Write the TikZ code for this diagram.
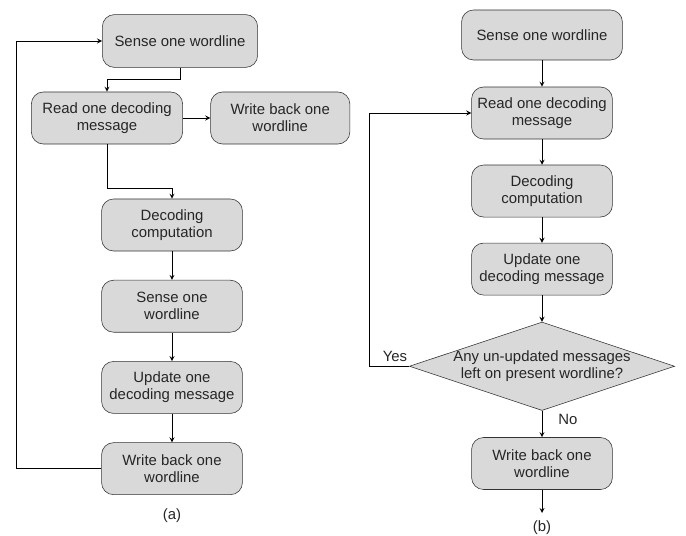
\documentclass[tikz,border=0pt]{standalone}
\usepackage{fontspec}
\setmainfont{Liberation Sans}
\usetikzlibrary{shapes.geometric,arrows}
\tikzstyle{process} = [rectangle, rounded corners=0.3cm, minimum width=3.52cm, minimum height=1.3cm, text centered, align=center, draw=black!80, fill=black!15, text=black!85, font=\fontsize{10.6}{12.3}\selectfont]
\tikzstyle{decision} = [diamond, aspect=3, minimum width=6.5cm, minimum height=2.18cm, inner sep=-0.5pt, text centered, align=center, draw=black!80, fill=black!15, text=black!85, font=\fontsize{10.6}{12.3}\selectfont]
\tikzstyle{label} = [text=black!85, font=\fontsize{10.6}{12.3}\selectfont]
\tikzstyle{arrow} = [line width=0.6pt, ->, >=stealth]

\begin{document}
\begin{tikzpicture}[x=0.025cm, y=-0.025cm]
\useasboundingbox (0,0) rectangle (686,536);

% (a)
\node (senseA) [process, minimum width=3.88cm, minimum height=1.32cm] at (180,41) {Sense one wordline};
\node (readA) [process, minimum width=3.78cm] at (107,118) {Read one decoding\\message};
\node (writeA) [process, minimum width=3.48cm, right of=readA, node distance=4.33cm] {Write back one\\wordline};
\node (decodeA) [process] at (172,225) {Decoding\\computation};
\node (senseA2) [process, below of=decodeA, node distance=2.03cm] {Sense one\\wordline};
\node (updateA) [process, below of=senseA2, node distance=2.03cm] {Update one\\decoding message};
\node (writeA2) [process, below of=updateA, node distance=2.03cm] {Write back one\\wordline};
\node (capA) [label] at (172,516) {(a)};

\draw [arrow] (senseA.south) -- ++(0,12) -| (readA.north);
\draw [arrow] (readA.east) -- (writeA.west);
\draw [arrow] (readA.south) -- ++(0,44) -| (decodeA.north);
\draw [arrow] (decodeA) -- (senseA2);
\draw [arrow] (senseA2) -- (updateA);
\draw [arrow] (updateA) -- (writeA2);
\draw [arrow] (writeA2.west) -- ++(-85,0) |- (senseA.west);

% (b)
\node (senseB) [process, minimum width=4.02cm, minimum height=1.25cm] at (542,35) {Sense one wordline};
\node (readB) [process, below of=senseB, node distance=1.95cm] {Read one decoding\\message};
\node (decodeB) [process, below of=readB, node distance=1.95cm] {Decoding\\computation};
\node (updateB) [process, below of=decodeB, node distance=1.95cm] {Update one\\decoding message};
\node (check) [decision, below of=updateB, node distance=2.43cm] {Any un-updated messages\\left on present wordline?};
\node (writeB) [process, below of=check, node distance=2.43cm] {Write back one\\wordline};
\coordinate (endB) at (542,513);
\node (yes) [label] at (395,356) {Yes};
\node (no) [label] at (568,419) {No};
\node (capB) [label] at (542,528) {(b)};

\draw [arrow] (senseB) -- (readB);
\draw [arrow] (readB) -- (decodeB);
\draw [arrow] (decodeB) -- (updateB);
\draw [arrow] (updateB) -- (check);
\draw [arrow] (check.west) -- ++(-40,0) |- (readB.west);
\draw [arrow] (check) -- (writeB);
\draw [arrow] (writeB) -- (endB);
\end{tikzpicture}
\end{document}
